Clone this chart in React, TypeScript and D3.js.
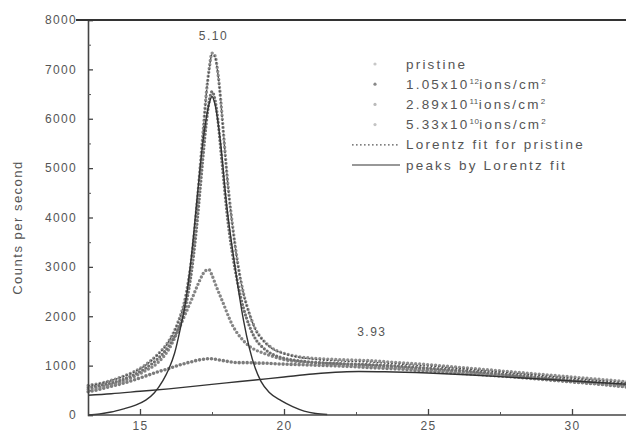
import { useEffect, useRef } from 'react';
import * as d3 from 'd3';

// 2θ grid shared by the measured spectra
const twoTheta = [
  13.2, 13.6, 14.0, 14.4, 14.8, 15.2, 15.6, 16.0, 16.3, 16.6, 16.8, 17.0, 17.1, 17.2, 17.3, 17.4, 17.5, 17.6, 17.7, 17.8, 17.9, 18.0,
  18.1, 18.2, 18.4, 18.6, 18.8, 19.0, 19.3, 19.6, 20.0, 20.5, 21.0, 22, 23, 24, 25, 26, 27, 28, 29, 30, 31, 32,
];

const pristine = [
  600, 640, 700, 780, 880, 1020, 1220, 1500, 1850, 2450, 3200, 4400, 5100, 5800, 6500, 7000, 7330, 7280, 6950, 6400, 5700, 5000,
  4400, 3900, 3050, 2450, 2050, 1750, 1500, 1350, 1250, 1180, 1150, 1120, 1100, 1060, 1020, 970, 920, 870, 820, 770, 720, 670,
];
const dose1e12 = [
  560, 600, 650, 720, 820, 950, 1130, 1400, 1720, 2250, 2950, 4000, 4650, 5300, 5900, 6350, 6550, 6400, 6000, 5400, 4800, 4200,
  3700, 3300, 2650, 2150, 1800, 1550, 1350, 1230, 1150, 1100, 1070, 1040, 1020, 990, 950, 910, 860, 810, 760, 710, 660, 610,
];
const dose2e11 = [
  520, 560, 610, 680, 780, 900, 1050, 1330, 1680, 2080, 2350, 2630, 2760, 2870, 2930, 2940, 2830, 2680, 2530, 2390, 2250, 2100,
  1960, 1830, 1640, 1500, 1390, 1320, 1250, 1190, 1120, 1080, 1060, 1030, 1000, 960, 920, 880, 830, 780, 730, 680, 630, 580,
];
const dose5e10 = [
  470, 520, 580, 640, 710, 790, 870, 940, 1000, 1050, 1080, 1110, 1120, 1130, 1140, 1140, 1140, 1130, 1120, 1110, 1100, 1090,
  1080, 1070, 1060, 1060, 1060, 1050, 1050, 1040, 1030, 1020, 1010, 990, 960, 930, 890, 850, 810, 770, 720, 670, 620, 560,
];
const pristineFit = [
  590, 635, 695, 775, 870, 1010, 1210, 1490, 1840, 2430, 3180, 4380, 5080, 5780, 6480, 6980, 7300, 7250, 6930, 6380, 5680, 4980,
  4380, 3880, 3040, 2440, 2040, 1740, 1490, 1340, 1240, 1170, 1130, 1090, 1070, 1030, 990, 945, 895, 845, 795, 745, 695, 645,
];

// Lorentz-fit components
const narrowTheta = [
  13.2, 13.6, 14.0, 14.4, 14.8, 15.2, 15.5, 15.8, 16.0, 16.2, 16.4, 16.6, 16.8, 17.0, 17.2, 17.4, 17.5, 17.6, 17.8, 18.0, 18.2, 18.4,
  18.6, 18.8, 19.0, 19.2, 19.5, 19.9, 20.3, 20.7, 21.1, 21.5,
];
const narrowPeak = [
  0, 20, 60, 120, 190, 300, 450, 700, 930, 1250, 1750, 2350, 3300, 4500, 5600, 6300, 6450, 6300, 5500, 4300, 3400, 2600, 1900, 1350,
  950, 680, 450, 290, 170, 80, 30, 10,
];
const broadTheta = [13.2, 14, 15, 16, 17, 18, 19, 20, 21, 22, 22.6, 23.5, 25, 26.5, 28, 30, 32];
const broadPeak = [400, 430, 480, 530, 590, 650, 710, 770, 830, 870, 880, 875, 850, 810, 760, 690, 620];

const xTicks = [15, 20, 25, 30];
const xMinorTicks = [17.5, 22.5, 27.5];
const yTicks = [0, 1000, 2000, 3000, 4000, 5000, 6000, 7000, 8000];
const yMinorTicks = [500, 1500, 2500, 3500, 4500, 5500, 6500, 7500];

const peakLabels = [
  { text: '5.10', theta: 17.55, counts: 7600 },
  { text: '3.93', theta: 23.05, counts: 1600 },
];

type Point = [number, number];

export default function App() {
  const svgRef = useRef<SVGSVGElement | null>(null);

  useEffect(() => {
    const svgElement = svgRef.current;
    if (!svgElement) {
      return;
    }
    const svg = d3.select(svgElement);
    svg.selectAll('*').remove();

    const width = 626;
    const height = 434;
    const font = 'Liberation Sans, Arial, sans-serif';
    svg.attr('viewBox', `0 0 ${width} ${height}`);

    const x = d3.scaleLinear().domain([15, 30]).range([140, 572]);
    const y = d3.scaleLinear().domain([0, 8000]).range([415, 20]);

    svg.append('rect').attr('width', width).attr('height', height).attr('fill', '#fff');

    const line = d3
      .line<Point>()
      .x((d) => x(d[0]))
      .y((d) => y(d[1]))
      .curve(d3.curveMonotoneX);

    const zip = (xs: number[], ys: number[]) => xs.map((t, i) => [t, ys[i]] as Point);

    const series = [
      { key: 'd5e10', values: dose5e10, color: '#7c7c7c', width: 3.6, dash: '0 4' },
      { key: 'd2e11', values: dose2e11, color: '#858585', width: 3.4, dash: '0 4' },
      { key: 'd1e12', values: dose1e12, color: '#707070', width: 3.2, dash: '0 3.6' },
      { key: 'pristine', values: pristine, color: '#8e8e8e', width: 3.4, dash: '0 4' },
    ];

    const plot = svg.append('g');
    plot
      .selectAll('path.series')
      .data(series)
      .join('path')
      .attr('class', 'series')
      .attr('fill', 'none')
      .attr('stroke', (d) => d.color)
      .attr('stroke-width', (d) => d.width)
      .attr('stroke-linecap', 'round')
      .attr('stroke-dasharray', (d) => d.dash)
      .attr('d', (d) => line(zip(twoTheta, d.values)));

    plot
      .append('path')
      .attr('fill', 'none')
      .attr('stroke', '#4a4a4a')
      .attr('stroke-width', 1.3)
      .attr('stroke-dasharray', '1.6 2')
      .attr('d', line(zip(twoTheta, pristineFit)));

    [zip(narrowTheta, narrowPeak), zip(broadTheta, broadPeak)].forEach((pts) => {
      plot.append('path').attr('fill', 'none').attr('stroke', '#333').attr('stroke-width', 1.4).attr('d', line(pts));
    });

    // axes
    const axisStyle = (g: d3.Selection<SVGGElement, unknown, null, undefined>) => {
      g.select('.domain').attr('stroke', '#444').attr('stroke-width', 1.6);
      g.selectAll('.tick line').attr('stroke', '#444').attr('stroke-width', 1.3);
      g.selectAll('.tick text')
        .attr('fill', '#555')
        .attr('font-family', font)
        .attr('font-size', 12)
        .attr('letter-spacing', 1.3);
    };

    const yAxis = svg
      .append('g')
      .attr('transform', 'translate(88,0)')
      .call(d3.axisLeft(y).tickValues(yTicks).tickSize(-5).tickPadding(11).tickFormat(d3.format('d')));
    axisStyle(yAxis);
    svg
      .append('g')
      .attr('transform', 'translate(88,0)')
      .call(d3.axisLeft(y).tickValues(yMinorTicks).tickSize(-3).tickFormat(() => ''))
      .call((g) => g.select('.domain').remove())
      .call((g) => g.selectAll('.tick line').attr('stroke', '#555'));

    const xAxis = svg
      .append('g')
      .attr('transform', 'translate(0,415)')
      .call(d3.axisBottom(x).tickValues(xTicks).tickSize(-6).tickPadding(6).tickSizeOuter(0));
    xAxis.select('.domain').attr('d', `M88,0H${width}`);
    axisStyle(xAxis);
    svg
      .append('g')
      .attr('transform', 'translate(0,415)')
      .call(d3.axisBottom(x).tickValues(xMinorTicks).tickSize(-3).tickFormat(() => ''))
      .call((g) => g.select('.domain').remove())
      .call((g) => g.selectAll('.tick line').attr('stroke', '#555'));

    // top frame line
    svg
      .append('line')
      .attr('x1', 76)
      .attr('x2', width)
      .attr('y1', y(8000))
      .attr('y2', y(8000))
      .attr('stroke', '#333')
      .attr('stroke-width', 1.8);

    svg
      .append('text')
      .attr('transform', `translate(22,${(y(0) + y(8000)) / 2 + 10}) rotate(-90)`)
      .attr('text-anchor', 'middle')
      .attr('fill', '#555')
      .attr('font-family', font)
      .attr('font-size', 13)
      .attr('letter-spacing', 1.5)
      .text('Counts per second');

    svg
      .selectAll('text.peak')
      .data(peakLabels)
      .join('text')
      .attr('class', 'peak')
      .attr('x', (d) => x(d.theta))
      .attr('y', (d) => y(d.counts))
      .attr('text-anchor', 'middle')
      .attr('fill', '#555')
      .attr('font-family', font)
      .attr('font-size', 12)
      .attr('letter-spacing', 1.5)
      .text((d) => d.text);

    // legend
    const legendItems = [
      { parts: [['pristine', false]], kind: 'dot', color: '#c8c8c8' },
      { parts: [['1.05x10', false], ['12', true], ['ions/cm', false], ['2', true]], kind: 'dot', color: '#888' },
      { parts: [['2.89x10', false], ['11', true], ['ions/cm', false], ['2', true]], kind: 'dot', color: '#bbb' },
      { parts: [['5.33x10', false], ['10', true], ['ions/cm', false], ['2', true]], kind: 'dot', color: '#c4c4c4' },
      { parts: [['Lorentz fit for pristine', false]], kind: 'dotted', color: '#555' },
      { parts: [['peaks by Lorentz fit', false]], kind: 'solid', color: '#333' },
    ] as { parts: [string, boolean][]; kind: string; color: string }[];

    const legend = svg.append('g').attr('transform', 'translate(352,64)');
    const rows = legend
      .selectAll('g.row')
      .data(legendItems)
      .join('g')
      .attr('class', 'row')
      .attr('transform', (_, i) => `translate(0,${i * 20.2})`);

    rows
      .filter((d) => d.kind === 'dot')
      .append('circle')
      .attr('cx', 23)
      .attr('cy', 0)
      .attr('r', 1.6)
      .attr('fill', (d) => d.color);
    rows
      .filter((d) => d.kind !== 'dot')
      .append('line')
      .attr('x1', 0)
      .attr('x2', 48)
      .attr('y1', 0)
      .attr('y2', 0)
      .attr('stroke', (d) => d.color)
      .attr('stroke-width', 1.2)
      .attr('stroke-dasharray', (d) => (d.kind === 'dotted' ? '1.6 2.4' : null));

    const texts = rows
      .append('text')
      .attr('x', 54)
      .attr('y', 4.5)
      .attr('fill', '#555')
      .attr('font-family', font)
      .attr('font-size', 13.5)
      .attr('letter-spacing', 2.2);
    texts.each(function (d) {
      const t = d3.select(this);
      d.parts.forEach(([str, sup]) => {
        const span = t.append('tspan').text(str);
        if (sup) {
          span.attr('font-size', 8).attr('baseline-shift', '60%').attr('letter-spacing', 0.5);
        }
      });
    });
  }, []);

  return (
    <svg
      ref={svgRef}
      width={626}
      height={434}
      style={{ position: 'absolute', left: 0, top: 0, display: 'block' }}
      aria-label="XRD counts per second"
    />
  );
}
